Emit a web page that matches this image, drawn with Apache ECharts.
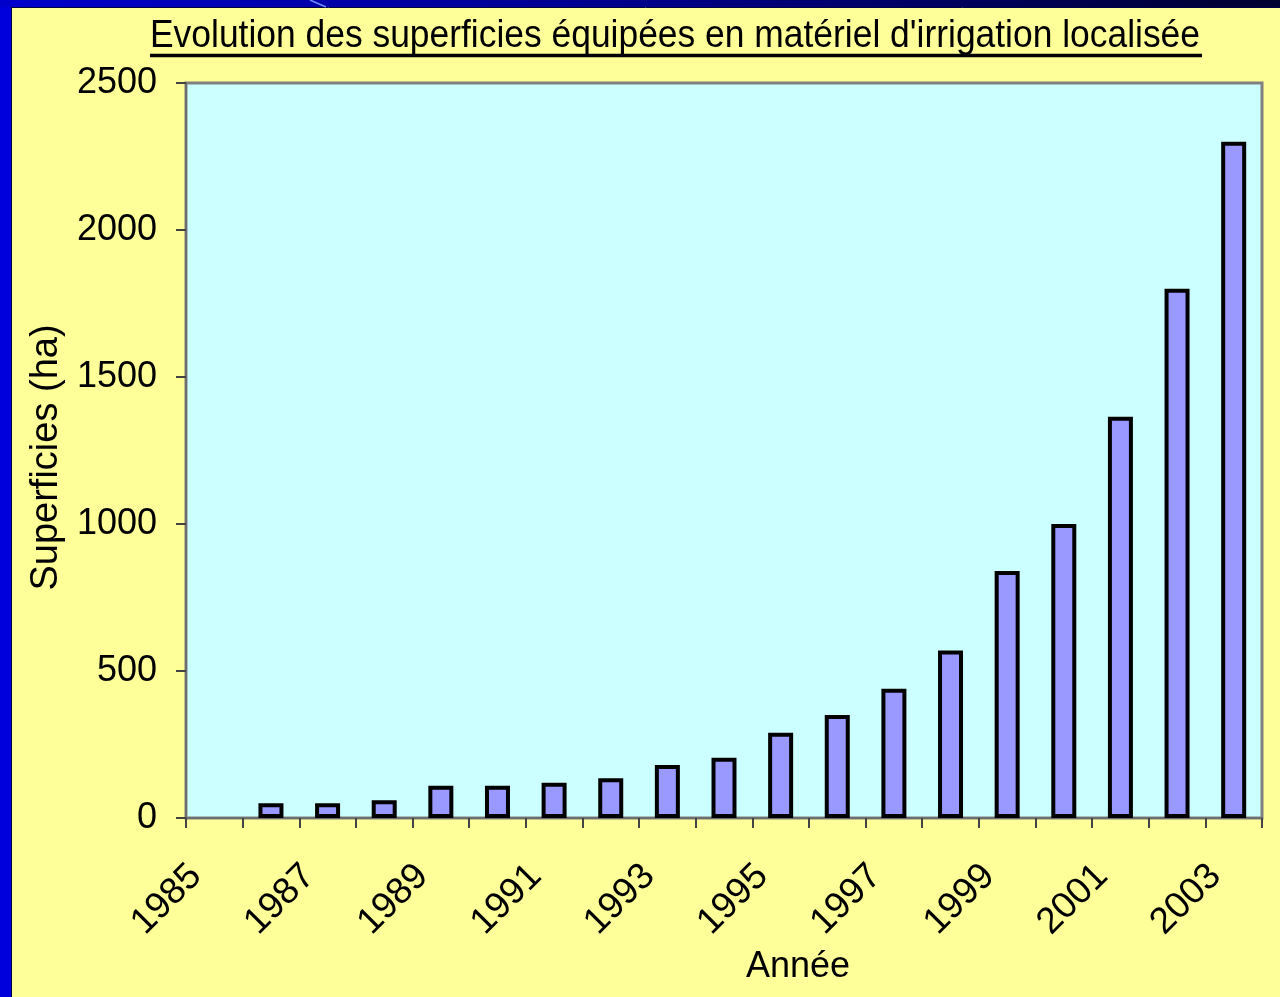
<!DOCTYPE html>
<html>
<head>
	<meta charset="utf-8">
	<title>Evolution des superficies</title>
	<style>
		* {
			margin: 0;
			padding: 0;
		}
		body {
			background-color: #FFFF99;
			overflow: hidden;
		}
		#chart {
			width: 1280px;
			height: 997px;
		}
	</style>
	<script src="https://cdn.jsdelivr.net/npm/echarts@6/dist/echarts.min.js"></script>
</head>
<body>
<div id="chart"></div>
<script>
	// donnees
	var titleText = "Evolution des superficies équipées en matériel d'irrigation localisée";
	var years = ['1985', '1986', '1987', '1988', '1989', '1990', '1991', '1992', '1993', '1994',
		'1995', '1996', '1997', '1998', '1999', '2000', '2001', '2002', '2003'];
	var surfaces = [null, 50, 50, 60, 110, 110, 120, 135, 180, 205,
		290, 350, 440, 570, 840, 1000, 1365, 1800, 2300];
	var yTicks = [0, 500, 1000, 1500, 2000, 2500];

	var FONT = '"Liberation Sans", Arial, sans-serif';

	// le titre d'origine est un peu condense : on le serre en largeur
	var cv = document.createElement('canvas').getContext('2d');
	cv.font = '38px ' + FONT;
	var titleScale = 1050 / cv.measureText(titleText).width;

	var chart = echarts.init(document.getElementById('chart'));

	var option = {
		backgroundColor: '#FFFF99',
		animation: false,
		textStyle: { fontFamily: FONT, color: '#000' },
		grid: {
			left: 186, right: 18, top: 83, bottom: 179,
			show: true,
			backgroundColor: '#CCFFFF',
			borderColor: '#808080',
			borderWidth: 3
		},
		xAxis: {
			type: 'category',
			data: years,
			name: 'Année',
			nameLocation: 'middle',
			nameGap: 125,
			nameTextStyle: { fontSize: 36, color: '#000', fontFamily: FONT, padding: [0, 0, 0, 148] },
			axisLine: { lineStyle: { color: '#6e6e6e', width: 2 } },
			axisTick: { show: true, interval: 0, length: 10, lineStyle: { color: '#444', width: 2 } },
			axisLabel: {
				interval: 1,
				rotate: 45,
				margin: 34,
				padding: [0, 26, 0, 0],
				fontSize: 37,
				color: '#000',
				fontFamily: FONT
			}
		},
		yAxis: {
			type: 'value',
			min: 0,
			max: 2500,
			interval: 500,
			name: 'Superficies (ha)',
			nameLocation: 'middle',
			nameGap: 118,
			nameTextStyle: { fontSize: 38, color: '#000', fontFamily: FONT, padding: [0, 14, 0, 0] },
			axisLine: { show: true, lineStyle: { color: '#6e6e6e', width: 2 } },
			axisTick: { show: true, length: 10, lineStyle: { color: '#444', width: 2 } },
			axisLabel: {
				margin: 29,
				fontSize: 36,
				color: '#000',
				fontFamily: FONT,
				formatter: function (v) { return yTicks.indexOf(v) >= 0 ? String(v) : ''; }
			},
			splitLine: { show: false }
		},
		series: [{
			type: 'bar',
			data: surfaces,
			barWidth: 25,
			itemStyle: {
				color: '#9999FF',
				borderColor: '#000',
				borderWidth: 4
			}
		}],
		graphic: [
			// bandeau bleu a gauche et en haut
			{ type: 'rect', left: 0, top: 0, z: 100, shape: { width: 11, height: 997 }, style: { fill: '#0000DD' } },
			{ type: 'rect', left: 0, top: 0, z: 100, shape: { width: 1280, height: 7 },
				style: { fill: new echarts.graphic.LinearGradient(0, 0, 1, 0, [
					{ offset: 0, color: '#0000CC' },
					{ offset: 0.5, color: '#00008A' },
					{ offset: 1, color: '#000030' }
				]) } },
			{ type: 'line', z: 101, shape: { x1: 11.5, y1: 7, x2: 11.5, y2: 997 }, style: { stroke: '#000044', lineWidth: 1 } },
			{ type: 'line', z: 101, shape: { x1: 11, y1: 7.5, x2: 1280, y2: 7.5 }, style: { stroke: '#000044', lineWidth: 1 } },
			{ type: 'line', z: 101, shape: { x1: 310, y1: 0, x2: 326, y2: 7 }, style: { stroke: '#6f8cff', lineWidth: 1.5 } },
			// titre souligne
			{
				type: 'text',
				x: 150,
				y: 18,
				scaleX: titleScale,
				style: {
					text: titleText,
					font: '38px ' + FONT,
					fill: '#000',
					verticalAlign: 'top'
				}
			},
			{ type: 'line', shape: { x1: 150, y1: 55.5, x2: 1202, y2: 55.5 }, style: { stroke: '#000', lineWidth: 3.5 } }
		]
	};

	chart.setOption(option);
</script>
</body>
</html>
